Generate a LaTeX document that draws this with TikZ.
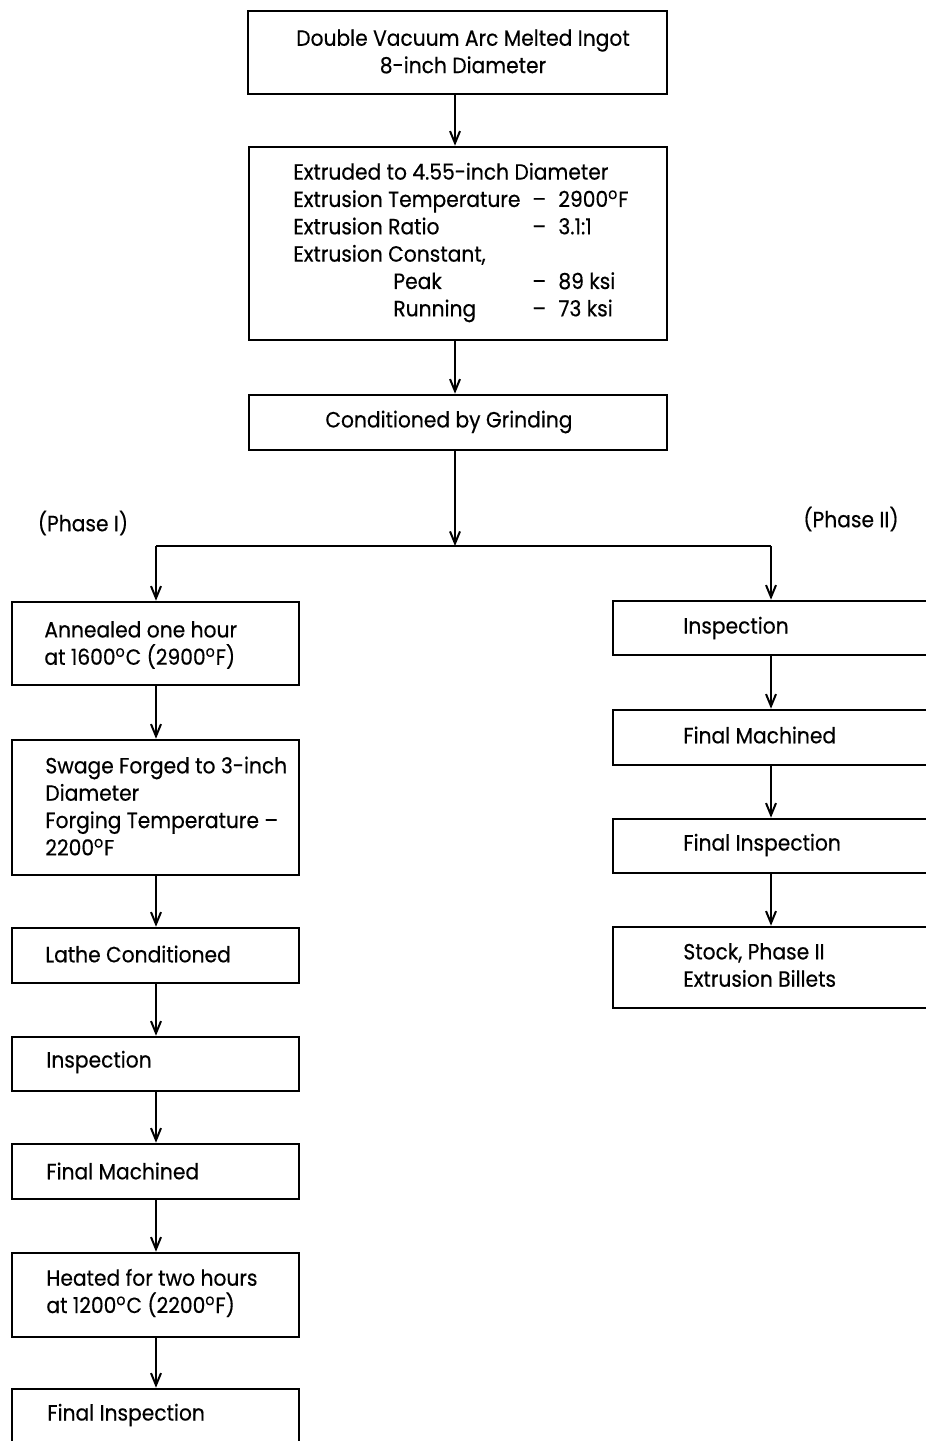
\documentclass[tikz,border=0pt]{standalone}
\usepackage{fontspec}
\setmainfont{Poppins}[FakeStretch=0.92,FakeBold=0.4]
\usetikzlibrary{arrows.meta}
\newcommand\boxfont{\fontsize{11}{13.67}\selectfont}
\newcommand\dego{\textsuperscript{o}}
\begin{document}
\begin{tikzpicture}[x=0.5pt,y=-0.5pt,
  box/.style={draw, line width=1.3pt, rectangle, inner sep=0pt},
  txt/.style={inner sep=0pt, align=left, anchor=west, font=\boxfont},
  ctxt/.style={inner sep=0pt, align=center, anchor=center, font=\boxfont},
  arr/.style={line width=1.1pt, -{Straight Barb[length=6pt,width=5pt,line width=1pt]}},
  conn/.style={line width=1.1pt}]
\useasboundingbox (0,0) rectangle (926,1441);
\clip (0,0) rectangle (926,1441);
\fill[white] (0,0) rectangle (926,1441);
% column coordinates
\coordinate (cM) at (455,0);
\coordinate (cL) at (156,0);
\coordinate (cR) at (771,0);
% top boxes
\node[box, minimum width=209.5pt, minimum height=41.5pt] (b1) at (457.5,52.5) {};
\node[ctxt] (t1) at (463,51.5) {Double Vacuum Arc Melted Ingot\\8-inch Diameter};
\node[box, minimum width=209pt, minimum height=96.5pt] (b2) at (458,243.5) {};
\node[txt] (t2) at (293,242.5) {%
\begin{tabular}{@{}p{50pt}@{}p{69.5pt}@{}p{13pt}@{}l@{}}
\multicolumn{4}{@{}l@{}}{Extruded to 4.55-inch Diameter}\\
\multicolumn{2}{@{}l@{}}{Extrusion Temperature} & – & 2900\dego F\\
\multicolumn{2}{@{}l@{}}{Extrusion Ratio} & – & 3.1:1\\
\multicolumn{4}{@{}l@{}}{Extrusion Constant,}\\
 & Peak & – & 89 ksi\\
 & Running & – & 73 ksi
\end{tabular}};
\node[box, minimum width=209pt, minimum height=27.5pt] (b3) at (458,422.5) {};
\node[txt] (t3) at (325,422) {Conditioned by Grinding};
% split
\coordinate (jM) at (455,546);
\coordinate (jL) at (156,546);
\coordinate (jR) at (771,546);
\node[ctxt] (p1) at (83,523) {(Phase I)};
\node[ctxt] (p2) at (851,519) {(Phase II)};
% left column
\node[box, minimum width=143.5pt, minimum height=41.5pt] (lA) at (155.5,643.5) {};
\node[txt] (tlA) at (44,645) {Annealed one hour\\at 1600\dego C (2900\dego F)};
\node[box, minimum width=143.5pt, minimum height=67.5pt] (lS) at (155.5,807.5) {};
\node[txt] (tlS) at (45,806) {Swage Forged to 3-inch\\Diameter\\Forging Temperature –\\2200\dego F};
\node[box, minimum width=143.5pt, minimum height=27.5pt] (lL) at (155.5,955.5) {};
\node[txt] (tlL) at (45,954) {Lathe Conditioned};
\node[box, minimum width=143.5pt, minimum height=27pt] (lI) at (155.5,1064) {};
\node[txt] (tlI) at (46,1062) {Inspection};
\node[box, minimum width=143.5pt, minimum height=27.5pt] (lM) at (155.5,1171.5) {};
\node[txt] (tlM) at (46,1171) {Final Machined};
\node[box, minimum width=143.5pt, minimum height=42pt] (lH) at (155.5,1295) {};
\node[txt] (tlH) at (46,1293) {Heated for two hours\\at 1200\dego C (2200\dego F)};
\node[box, minimum width=143.5pt, minimum height=27.5pt] (lF) at (155.5,1416.5) {};
\node[txt] (tlF) at (47,1415) {Final Inspection};
% right column
\node[box, minimum width=193.5pt, minimum height=27pt] (rI) at (806.5,628) {};
\node[txt] (trI) at (683,628) {Inspection};
\node[box, minimum width=193.5pt, minimum height=27.5pt] (rM) at (806.5,737.5) {};
\node[txt] (trM) at (683,735) {Final Machined};
\node[box, minimum width=193.5pt, minimum height=27pt] (rF) at (806.5,846) {};
\node[txt] (trF) at (683,845) {Final Inspection};
\node[box, minimum width=193.5pt, minimum height=40.5pt] (rS) at (806.5,967.5) {};
\node[txt] (trS) at (683,965) {Stock, Phase II\\Extrusion Billets};
% connectors
\draw[arr] (b1.south -| cM) -- (b2.north -| cM);
\draw[arr] (b2.south -| cM) -- (b3.north -| cM);
\draw[arr] (b3.south -| cM) -- (jM);
\draw[conn] (jL) -- (jR);
\draw[arr] (jL) -- (lA.north -| cL);
\draw[arr] (jR) -- (rI.north -| cR);
\draw[arr] (lA.south -| cL) -- (lS.north -| cL);
\draw[arr] (lS.south -| cL) -- (lL.north -| cL);
\draw[arr] (lL.south -| cL) -- (lI.north -| cL);
\draw[arr] (lI.south -| cL) -- (lM.north -| cL);
\draw[arr] (lM.south -| cL) -- (lH.north -| cL);
\draw[arr] (lH.south -| cL) -- (lF.north -| cL);
\draw[arr] (rI.south -| cR) -- (rM.north -| cR);
\draw[arr] (rM.south -| cR) -- (rF.north -| cR);
\draw[arr] (rF.south -| cR) -- (rS.north -| cR);
\end{tikzpicture}
\end{document}
